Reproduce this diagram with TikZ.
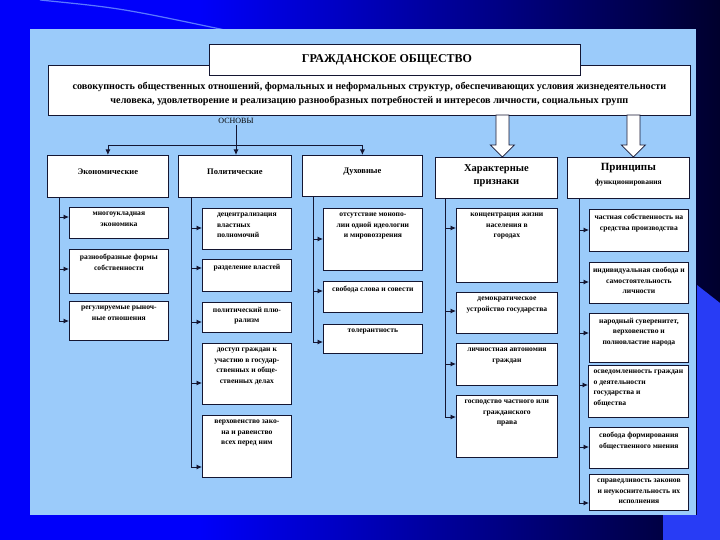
\documentclass[tikz,border=0pt]{standalone}
\usepackage{fontspec}
\setmainfont{Liberation Serif}
\usetikzlibrary{calc,arrows.meta}
\definecolor{panel}{RGB}{155,203,250}
\definecolor{ink}{RGB}{20,22,50}
\definecolor{bgblue}{RGB}{0,0,250}
\definecolor{bgnavy}{RGB}{0,0,45}
\definecolor{patch}{RGB}{40,60,245}
\definecolor{curvec}{RGB}{90,120,255}
\newcommand{\itm}[7]{%
  \node[box, minimum width=#4, minimum height=#5] (#1) at (#2,-#3) {};
  \node[itxt, align=#6] (#1t) at ($(#1.north)+(0,-4)$) {#7};
}
\newcommand{\feed}[3]{%
  \path (0,-#3) coordinate (tmpy#2);
  \draw[arr] (#1) |- (#2.west |- tmpy#2);
}
\begin{document}
\begin{tikzpicture}[x=1pt,y=1pt,
  box/.style={draw=ink, fill=white, line width=0.8pt, inner sep=0pt, anchor=north west},
  itxt/.style={font=\bfseries\fontsize{7.6}{10.5}\selectfont, inner sep=1pt, anchor=north, text=black},
  htxt/.style={font=\bfseries\fontsize{8.5}{10}\selectfont, inner sep=1pt, text=black},
  arr/.style={draw=ink, line width=0.8pt, -{Latex[length=5.5pt,width=5pt]}},
  hollow/.style={draw=ink, fill=white, line width=0.8pt, line join=miter}]
\useasboundingbox (0,0) rectangle (720,-540);
% background
\fill[bgblue] (0,0) rectangle (200,-540);
\shade[left color=bgblue, right color=bgnavy] (199,0) rectangle (720,-540);
\fill[patch] (697,-285) -- (720,-303) -- (720,-540) -- (663,-540) -- (663,-515) -- (697,-515) -- cycle;
\draw[curvec, line width=1.2pt] (40,0) .. controls (120,-8) .. (225,-30);
\fill[panel] (30,-29) rectangle (696,-515);
% top
\node[box, minimum width=642, minimum height=50] (desc) at (48,-65) {};
\node[box, line width=1pt, minimum width=371, minimum height=31] (title) at (209,-44) {};
\node[font=\bfseries\fontsize{12}{12}\selectfont, inner sep=0pt] (titlet) at ($(title.center)+(-8,0)$) {ГРАЖДАНСКОЕ ОБЩЕСТВО};
\node[font=\bfseries\fontsize{10.2}{14}\selectfont, align=center, inner sep=0pt] (desct) at ($(desc.center)+(0,-4)$)
  {совокупность общественных отношений, формальных и неформальных структур, обеспечивающих условия жизнедеятельности\\
   человека, удовлетворение и реализацию разнообразных потребностей и интересов личности, социальных групп};
% headers
\node[box, minimum width=121, minimum height=42] (econ) at (47,-155) {};
\node[htxt] (econt) at ($(econ.north)+(0,-17)$) {Экономические};
\node[box, minimum width=113, minimum height=42] (polit) at (178,-155) {};
\node[htxt] (politt) at ($(polit.north)+(0,-17)$) {Политические};
\node[box, minimum width=120, minimum height=41] (spir) at (302,-155) {};
\node[htxt] (spirt) at ($(spir.north)+(0,-17)$) {Духовные};
\node[box, minimum width=122, minimum height=41] (char) at (435,-157) {};
\node[font=\bfseries\fontsize{10.5}{13}\selectfont, align=center, inner sep=0pt] (chart) at ($(char.center)+(0,2)$) {Характерные\\признаки};
\node[box, minimum width=122, minimum height=41] (princ) at (567,-157) {};
\node[font=\bfseries\fontsize{11}{11}\selectfont, inner sep=0pt] (princt) at ($(princ.north)+(0,-11)$) {Принципы};
\node[font=\bfseries\fontsize{7.5}{8}\selectfont, inner sep=0pt] (princt2) at ($(princ.north)+(0,-26)$) {функционирования};
% hollow arrows
\draw[hollow, shift={($(char.north)+(6,0)$)}] (0,0) -- (-12,12) -- (-6.5,12) -- (-6.5,42) -- (6.5,42) -- (6.5,12) -- (12,12) -- cycle;
\draw[hollow, shift={($(princ.north)+(5,0)$)}] (0,0) -- (-12,12) -- (-6.5,12) -- (-6.5,42) -- (6.5,42) -- (6.5,12) -- (12,12) -- cycle;
% osnovy
\node[font=\fontsize{8}{9}\selectfont, inner sep=1pt] (osn) at (236,-121) {ОСНОВЫ};
\path (0,-145) coordinate (hy);
\draw[arr] (osn.south) -- (osn.south |- polit.north);
\draw[draw=ink, line width=0.8pt] (hy -| econ.north) -- (hy -| spir.north);
\draw[arr] (hy -| econ.north) -- (econ.north);
\draw[arr] (hy -| spir.north) -- (spir.north);
% columns
\coordinate (ec) at ($(econ.south west)+(12,0)$);
\coordinate (pc) at ($(polit.south west)+(13,0)$);
\coordinate (sc) at ($(spir.south west)+(11,0)$);
\coordinate (cc) at ($(char.south west)+(10,0)$);
\coordinate (rc) at ($(princ.south west)+(12,0)$);
% economic
\itm{e1}{69}{207}{99}{31}{center}{многоукладная\\экономика}
\itm{e2}{69}{249}{99}{44}{center}{разнообразные формы\\собственности}
\itm{e3}{69}{301}{99}{39}{center}{регулируемые рыноч-\\ные отношения}
\feed{ec}{e1}{217}\feed{ec}{e2}{269}\feed{ec}{e3}{321}
% political
\itm{p1}{202}{208}{89}{41}{left}{децентрализация\\властных\\полномочий}
\itm{p2}{202}{259}{89}{32}{center}{разделение властей}
\itm{p3}{202}{302}{89}{30}{center}{политический плю-\\рализм}
\itm{p4}{202}{343}{89}{61}{center}{доступ граждан к\\участию в государ-\\ственных и обще-\\ственных делах}
\itm{p5}{202}{415}{89}{62}{center}{верховенство зако-\\на и равенство\\всех перед ним}
\feed{pc}{p1}{228}\feed{pc}{p2}{268}\feed{pc}{p3}{322}\feed{pc}{p4}{383}\feed{pc}{p5}{467}
% spiritual
\itm{s1}{323}{208}{99}{62}{center}{отсутствие монопо-\\лии одной идеологии\\и мировоззрения}
\itm{s2}{323}{281}{99}{31}{center}{свобода слова и совести}
\itm{s3}{323}{324}{99}{29}{center}{толерантность}
\feed{sc}{s1}{239}\feed{sc}{s2}{291}\feed{sc}{s3}{342}
% characteristic
\itm{c1}{456}{208}{101}{74}{center}{концентрация жизни\\населения в\\городах}
\itm{c2}{456}{292}{101}{41}{center}{демократическое\\устройство государства}
\itm{c3}{456}{343}{101}{42}{center}{личностная автономия\\граждан}
\itm{c4}{456}{395}{101}{62}{center}{господство частного или\\гражданского\\права}
\feed{cc}{c1}{228}\feed{cc}{c2}{311}\feed{cc}{c3}{364}\feed{cc}{c4}{417}
% principles
\itm{r1}{589}{209}{99}{42}{center}{частная собственность на\\средства производства}
\itm{r2}{589}{262}{99}{41}{center}{индивидуальная свобода и\\самостоятельность\\личности}
\itm{r3}{589}{313}{99}{49}{center}{народный суверенитет,\\верховенство и\\полновластие народа}
\itm{r4}{588}{365}{100}{52}{left}{осведомленность граждан\\о деятельности\\государства и\\общества}
\itm{r5}{589}{427}{99}{41}{center}{свобода формирования\\общественного мнения}
\itm{r6}{589}{474}{99}{36}{center}{справедливость законов\\и неукоснительность их\\исполнения}
\feed{rc}{r1}{230}\feed{rc}{r2}{282}\feed{rc}{r3}{333}\feed{rc}{r4}{385}\feed{rc}{r5}{447}\feed{rc}{r6}{503}
\end{tikzpicture}
\end{document}
